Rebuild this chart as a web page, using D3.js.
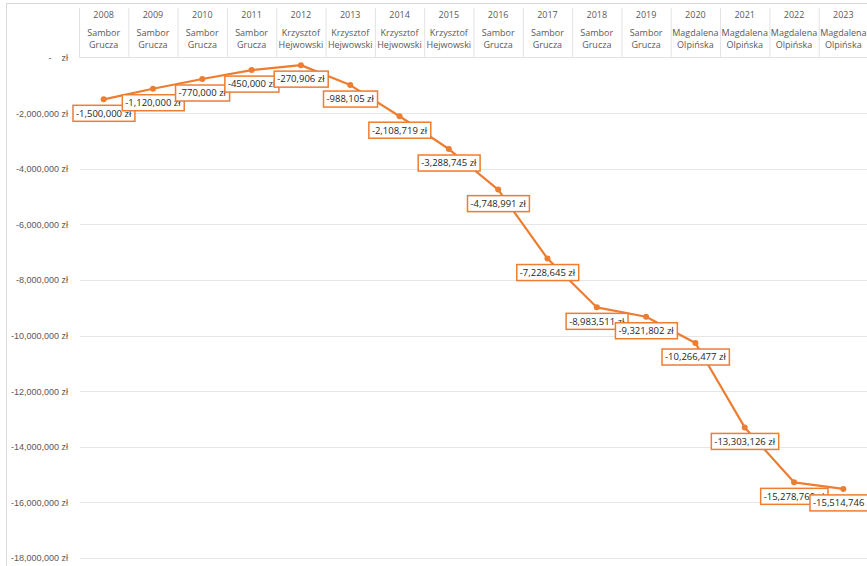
<!DOCTYPE html>
<html lang="en">
<head>
<meta charset="utf-8">
<title>Wynik</title>
<script type="text/javascript" src="https://d3js.org/d3.v7.min.js"></script>
<style type="text/css">
  body { margin: 0; background: #fff; }
  svg { display: block; font-family: "Open Sans", "Noto Sans", sans-serif; }
  .ylab text { fill: #595959; font-size: 9px; white-space: pre; }
  .cell text { fill: #595959; font-size: 9px; }
  .dlabel text { fill: #262626; font-size: 9.5px; }
</style>
</head>
<body>
<script type="text/javascript">
var years = ["2008","2009","2010","2011","2012","2013","2014","2015","2016","2017","2018","2019","2020","2021","2022","2023"];
var names = ["Sambor Grucza","Sambor Grucza","Sambor Grucza","Sambor Grucza",
             "Krzysztof Hejwowski","Krzysztof Hejwowski","Krzysztof Hejwowski","Krzysztof Hejwowski",
             "Sambor Grucza","Sambor Grucza","Sambor Grucza","Sambor Grucza",
             "Magdalena Olpińska","Magdalena Olpińska","Magdalena Olpińska","Magdalena Olpińska"];
var values = [-1500000,-1120000,-770000,-450000,-270906,-988105,-2108719,-3288745,-4748991,
              -7228645,-8983511,-9321802,-10266477,-13303126,-15278769,-15514746];
var yTicks = [0,-2000000,-4000000,-6000000,-8000000,-10000000,-12000000,-14000000,-16000000,-18000000];

var W = 867, H = 566;
var svg = d3.select("body").append("svg").attr("width", W).attr("height", H);

// chart frame
svg.append("rect").attr("x", 6.5).attr("y", 3.5).attr("width", W + 10).attr("height", H + 10)
  .attr("fill", "none").attr("stroke", "#d9d9d9");

var x = d3.scaleBand().domain(years).range([79, 868]);
var y = d3.scaleLinear().domain([0, -18000000]).range([57.6, 558]);

// gridlines
svg.append("g").selectAll("line").data(yTicks.slice(1)).enter().append("line")
  .attr("x1", 80).attr("x2", W)
  .attr("y1", function(d) { return Math.round(y(d)) + 0.5; })
  .attr("y2", function(d) { return Math.round(y(d)) + 0.5; })
  .attr("stroke", "#e6e6e6").attr("stroke-width", 1);

// y axis labels (plain hyphen, like Excel)
var fmt = d3.formatLocale({ decimal: ".", thousands: ",", grouping: [3], currency: ["", ""], minus: "-" }).format(",");
var yAxis = d3.axisLeft(y).tickValues(yTicks).tickSize(0).tickPadding(0)
  .tickFormat(function(d) { return d === 0 ? "-    zł" : fmt(d) + " zł"; });
svg.append("g").attr("class", "ylab").attr("transform", "translate(68,0)").call(yAxis)
  .call(function(g) { g.select(".domain").remove(); });

// category table on top
var cell = svg.append("g").attr("class", "cell").selectAll("g").data(years).enter().append("g")
  .attr("transform", function(d) { return "translate(" + x(d) + ",0)"; });
cell.append("line").attr("x1", 0.5).attr("x2", 0.5).attr("y1", 8).attr("y2", 57)
  .attr("stroke", "#e3e3e3");
cell.append("text").attr("x", x.bandwidth() / 2).attr("y", 18).attr("text-anchor", "middle")
  .text(function(d) { return d; });
cell.append("text").attr("x", x.bandwidth() / 2).attr("y", 36).attr("text-anchor", "middle")
  .text(function(d, i) { return names[i].split(" ")[0]; });
cell.append("text").attr("x", x.bandwidth() / 2).attr("y", 48).attr("text-anchor", "middle")
  .text(function(d, i) { return names[i].split(" ")[1]; });
svg.append("line").attr("x1", 79).attr("x2", W).attr("y1", 57.5).attr("y2", 57.5)
  .attr("stroke", "#e3e3e3");

// line + markers
var pts = years.map(function(d, i) { return { year: d, v: values[i] }; });
var cx = function(d) { return x(d.year) + x.bandwidth() / 2; };
svg.append("path").datum(pts)
  .attr("fill", "none").attr("stroke", "#ed7d31").attr("stroke-width", 2.2)
  .attr("stroke-linejoin", "round")
  .attr("d", d3.line().x(cx).y(function(d) { return y(d.v); }));
svg.append("g").selectAll("circle").data(pts).enter().append("circle")
  .attr("cx", cx).attr("cy", function(d) { return y(d.v); }).attr("r", 3)
  .attr("fill", "#ed7d31");

// data labels
var lab = svg.append("g").attr("class", "dlabel").selectAll("g").data(pts).enter().append("g")
  .attr("transform", function(d) { return "translate(" + cx(d) + "," + (y(d.v) + 14) + ")"; });
lab.append("text").attr("text-anchor", "middle").attr("dy", "0.35em")
  .text(function(d) { return fmt(d.v) + " zł"; });
lab.each(function() {
  var g = d3.select(this), bb = g.select("text").node().getBBox();
  g.insert("rect", "text")
    .attr("x", bb.x - 3).attr("y", -8).attr("width", bb.width + 6).attr("height", 16)
    .attr("fill", "#fff").attr("stroke", "#ed7d31").attr("stroke-width", 1.5);
});
</script>
</body>
</html>
